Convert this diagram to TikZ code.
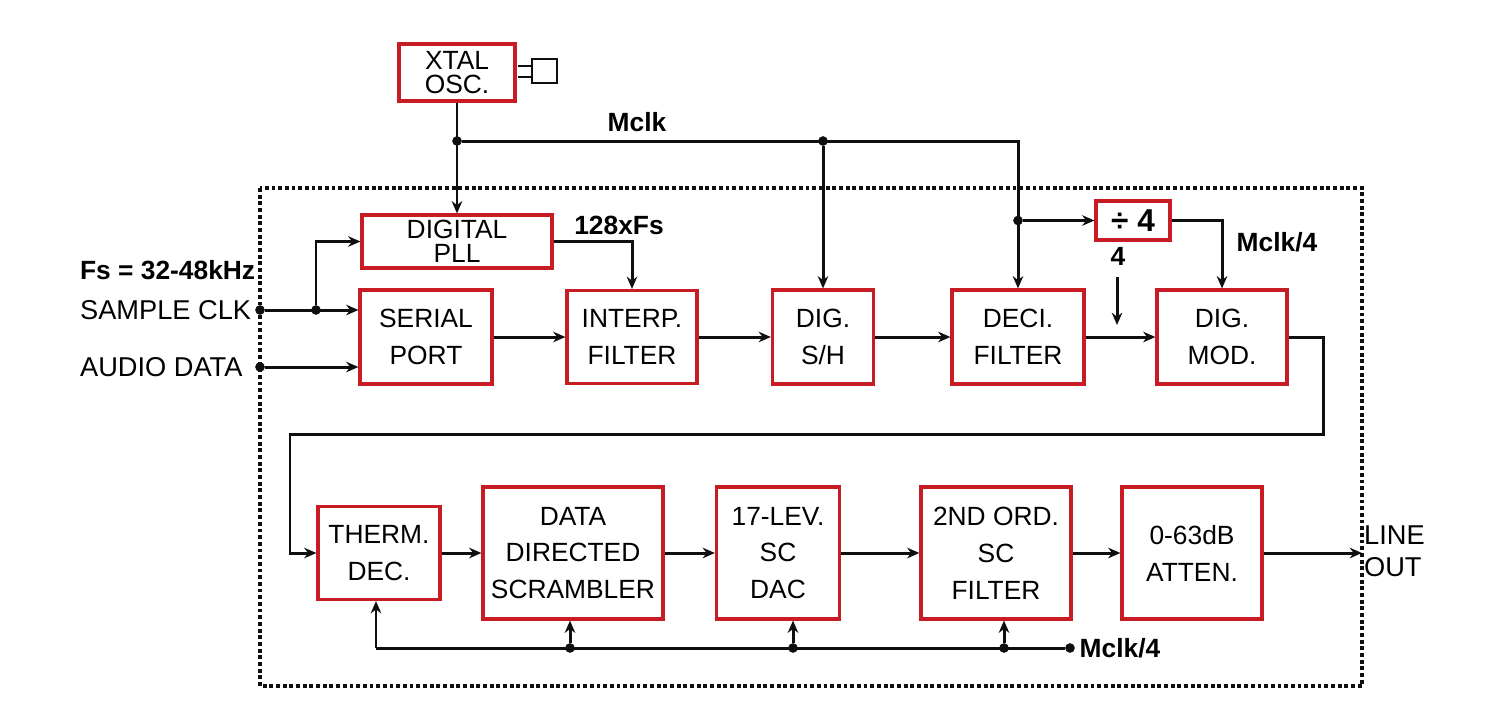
\documentclass[tikz,border=0pt]{standalone}
\usepackage{fontspec}
\setmainfont{Liberation Sans}
\usepackage{tikz}
\usetikzlibrary{arrows.meta, positioning, calc}
\definecolor{boxred}{RGB}{200,28,36}
\definecolor{inkdark}{RGB}{15,15,15}
\tikzset{
  blk/.style={rectangle, draw=boxred, fill=white, align=center,
    line width=1.8pt, inner sep=2pt, font=\fontsize{15}{21}\selectfont},
  tightblk/.style={blk, font=\fontsize{15}{13.5}\selectfont},
  lbl/.style={font=\fontsize{15}{18}\selectfont\bfseries, inner sep=1pt},
  pin/.style={font=\fontsize{15.5}{18}\selectfont, inner sep=1pt},
  sig/.style={-{Stealth[length=7pt,width=6pt]}, line width=1.7pt, color=inkdark},
  wire/.style={line width=1.7pt, color=inkdark},
  jdot/.style={circle, fill=inkdark, inner sep=0pt, minimum size=5.5pt},
  border/.style={line width=2pt, dash pattern=on 2.2pt off 1.6pt, color=inkdark}
}

\begin{document}
\begin{tikzpicture}[x=0.02cm, y=-0.02cm]
  \useasboundingbox (0,0) rectangle (1494,721);

  % Chip outline
  \draw[border] (260,188) rectangle (1362,686);

  % Oscillator and crystal
  \node[tightblk, minimum width=2.32cm, minimum height=1.14cm] (xtal) at (457,72.5) {XTAL\\OSC.};
  \draw[wire, line width=1.4pt] (518,66) -- (532,66) (518,77) -- (532,77);
  \draw[wire, line width=1.4pt] (532,59) rectangle (557,83);

  % Top row
  \node[tightblk, minimum width=3.8cm, minimum height=1.06cm] (pll) at (457,241.5) {DIGITAL\\PLL};
  \node[blk, minimum width=2.64cm, minimum height=1.88cm] (serial) at (426,337) {SERIAL\\PORT};
  \node[blk, minimum width=2.6cm, minimum height=1.86cm] (interp) at (632,337) {INTERP.\\FILTER};
  \node[blk, minimum width=2.02cm, minimum height=1.88cm] (dsh) at (823,337) {DIG.\\S/H};
  \node[blk, minimum width=2.64cm, minimum height=1.88cm] (deci) at (1018,337) {DECI.\\FILTER};
  \node[blk, minimum width=2.6cm, minimum height=1.88cm] (dmod) at (1222,337) {DIG.\\MOD.};
  \node[blk, font=\fontsize{18}{18}\selectfont\bfseries, minimum width=1.48cm, minimum height=0.78cm] (div4) at (1133,220.5) {÷ 4};

  % Bottom row
  \node[blk, minimum width=2.44cm, minimum height=1.86cm] (therm) at (379,553) {THERM.\\DEC.};
  \node[blk, minimum width=3.6cm, minimum height=2.64cm] (scram) at (573,553) {DATA\\DIRECTED\\SCRAMBLER};
  \node[blk, minimum width=2.46cm, minimum height=2.64cm] (dac) at (778,553) {17-LEV.\\SC\\DAC};
  \node[blk, minimum width=3.0cm, minimum height=2.64cm] (sfilt) at (996,553) {2ND ORD.\\SC\\FILTER};
  \node[blk, minimum width=2.8cm, minimum height=2.64cm] (atten) at (1192,553) {0-63dB\\ATTEN.};

  % Master clock
  \node[jdot] (jm) at (457,141) {};
  \node[lbl] (mclk) at (637,122) {Mclk};
  \draw[sig] (xtal.south) -- (pll.north);
  \draw[sig] (jm) -| (deci.north);
  \node[jdot] (jd) at (jm -| dsh.north) {};
  \draw[sig] (jd) -- (dsh.north);
  \node[jdot] (jdiv) at (deci.north |- div4.west) {};
  \draw[sig] (jdiv) -- (div4.west);
  \draw[sig] (div4.east) -| (dmod.north);
  \node[lbl] (mck4a) at (1277,242) {Mclk/4};
  \node[lbl] (bw) at (1118,256) {4};
  \coordinate (bwtop) at (1117,277);
  \coordinate (bwend) at (1117,325);
  \draw[sig] (bwtop) -- (bwend);

  % Inputs
  \node[lbl, anchor=west] (fs) at (78,270) {Fs = 32-48kHz};
  \node[pin, anchor=west] (sclk) at (78,310) {SAMPLE CLK};
  \node[pin, anchor=west] (adata) at (78,367) {AUDIO DATA};
  \node[jdot] (tclk) at (260,310) {};
  \node[jdot] (tdat) at (260,367) {};
  \node[jdot] (jclk) at (316,310) {};
  \draw[sig] (tclk) -- (serial.west |- tclk);
  \draw[sig] (jclk) |- (pll.west);
  \draw[sig] (tdat) -- (serial.west |- tdat);
  \draw[sig] (pll.east) -| (interp.north);
  \node[lbl] (fs128) at (619,225) {128xFs};

  % Top signal chain
  \draw[sig] (serial.east) -- (interp.west);
  \draw[sig] (interp.east) -- (dsh.west);
  \draw[sig] (dsh.east) -- (deci.west);
  \draw[sig] (deci.east) -- (dmod.west);
  \draw[sig] (dmod.east) -- ++(35,0) |- (290,434) |- (therm.west);

  % Bottom signal chain
  \node[pin, anchor=west, align=left] (lineout) at (1362,551) {LINE\\OUT};
  \draw[sig] (therm.east) -- (scram.west);
  \draw[sig] (scram.east) -- (dac.west);
  \draw[sig] (dac.east) -- (sfilt.west);
  \draw[sig] (sfilt.east) -- (atten.west);
  \draw[sig] (atten.east) -- (atten.east -| lineout.west);

  % Mclk/4 bus
  \node[lbl] (mck4b) at (1120,648) {Mclk/4};
  \node[jdot] (bend) at (1070,648) {};
  \coordinate (b1) at (376,648);
  \node[jdot] (b2) at (570,648) {};
  \node[jdot] (b3) at (793,648) {};
  \node[jdot] (b4) at (1004,648) {};
  \draw[wire] (b1) -- (bend);
  \draw[sig] (b1) -- (b1 |- therm.south);
  \draw[sig] (b2) -- (b2 |- scram.south);
  \draw[sig] (b3) -- (b3 |- dac.south);
  \draw[sig] (b4) -- (b4 |- sfilt.south);
\end{tikzpicture}
\end{document}
